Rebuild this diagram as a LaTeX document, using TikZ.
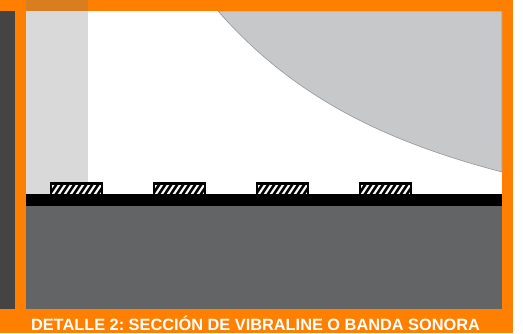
\documentclass[tikz,border=0pt]{standalone}
\usepackage{fontspec}
\setmainfont{Liberation Sans}
\definecolor{orangeb}{HTML}{FF8000}
\definecolor{darkp}{HTML}{444444}
\definecolor{road}{HTML}{636466}
\definecolor{curvef}{HTML}{C7C8CA}
\definecolor{curved}{HTML}{9A9B9D}
\definecolor{veil}{HTML}{767676}
\tikzset{
  px/.style={x=0.75pt,y=-0.75pt},
  stripbox/.style={draw=black,line width=1.9pt,fill=white},
  hatchline/.style={black,line width=1.9pt}
}
\newcommand{\ribbon}[1]{%
  \begin{scope}[shift={(#1,0)}]
    \path[stripbox] (1,183.5) rectangle (52,195);
    \begin{scope}
      \clip (1,183.5) rectangle (52,195);
      \foreach \k in {-8,-2,...,64} \draw[hatchline] (\k,197) -- (\k+10,182);
    \end{scope}
    \draw[black,line width=1.9pt] (1,183.5) rectangle (52,195);
  \end{scope}}
\begin{document}
\begin{tikzpicture}[px]
\useasboundingbox (0,0) rectangle (523,333);
\fill[white] (0,0) rectangle (523,333);
\fill[orangeb] (0,0) rectangle (513,333);
\fill[darkp] (0,11) rectangle (15,309);
\fill[white] (26,11) rectangle (502,309);
\begin{scope}
  \clip (26,11) rectangle (502,309);
  \filldraw[fill=curvef,draw=curved,line width=0.5pt] (218,11) .. controls (300,105) and (400,145) .. (502,172) -- (502,11) -- cycle;
\end{scope}
\fill[veil,opacity=0.27] (26,0) rectangle (88,194);
\fill[road] (26,206) rectangle (502,309);
\fill[black] (26,194) rectangle (502,206);
\ribbon{50}
\ribbon{153}
\ribbon{256}
\ribbon{359}
\node[text=white,font=\bfseries,inner sep=0pt,anchor=center] (title) at (255.5,323.5) {\fontsize{12.25}{14}\selectfont\frenchspacing DETALLE 2: SECCIÓN DE VIBRALINE O BANDA SONORA};
\end{tikzpicture}
\end{document}
